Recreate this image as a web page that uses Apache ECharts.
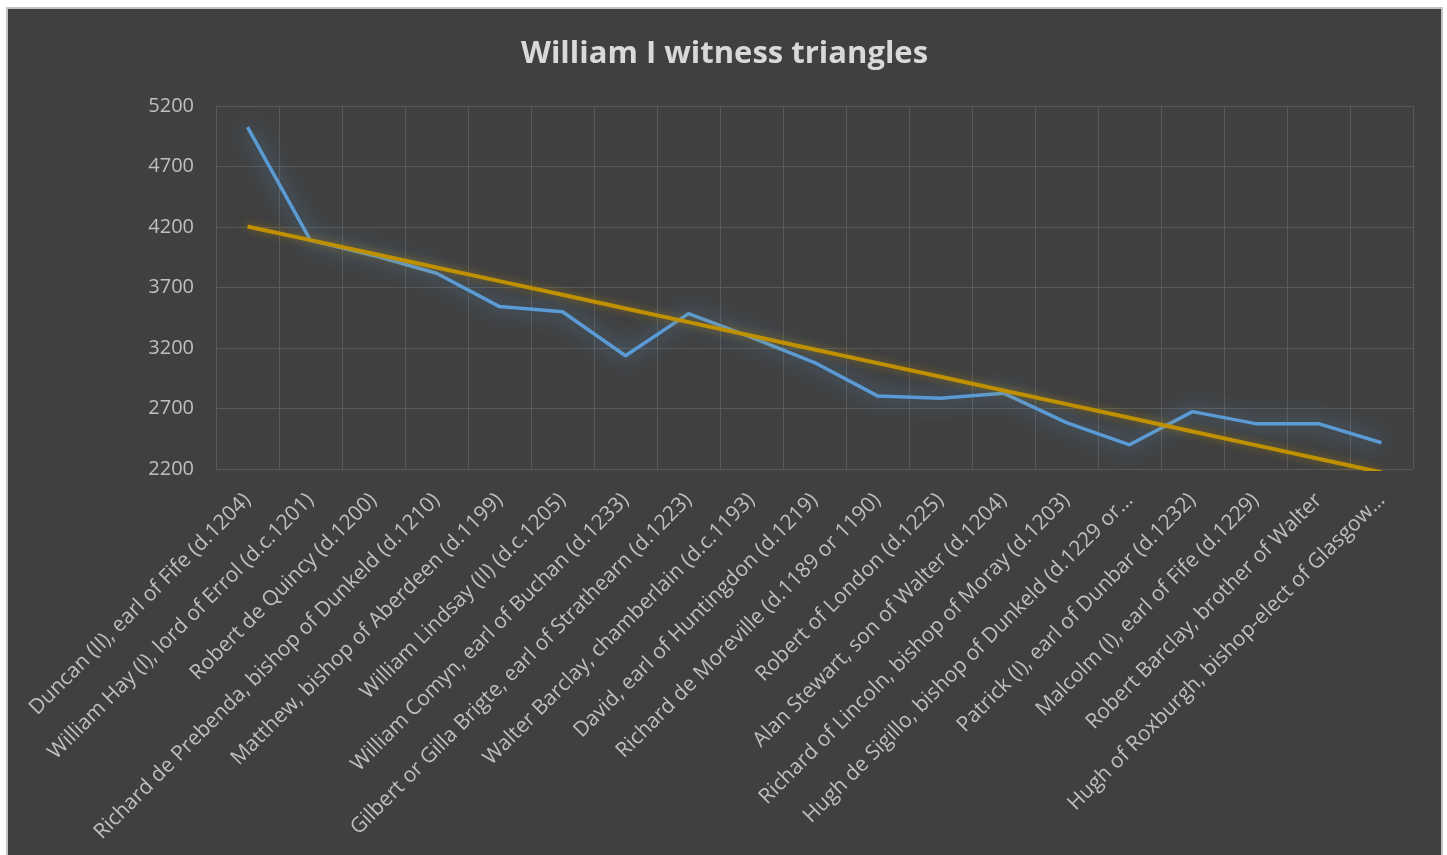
<!DOCTYPE html>
<html>
<head>
<meta charset="utf-8">
<script src="https://cdn.jsdelivr.net/npm/echarts@6/dist/echarts.min.js"></script>
<style>
html,body{margin:0;padding:0;background:#ffffff;width:1447px;height:855px;overflow:hidden;}
#frame{position:absolute;left:6px;top:7px;width:1433px;height:860px;border:2px solid #c4c4c4;background:#404040;}
#chart{width:1433px;height:846px;}
</style>
</head>
<body>
<div id="frame"><div id="chart"></div></div>
<script>
var titleText = 'William I witness triangles';
var categories = [
  'Duncan (II), earl of Fife (d.1204)',
  'William Hay (I), lord of Errol (d.c.1201)',
  'Robert de Quincy (d.1200)',
  'Richard de Prebenda, bishop of Dunkeld (d.1210)',
  'Matthew, bishop of Aberdeen (d.1199)',
  'William Lindsay (II) (d.c.1205)',
  'William Comyn, earl of Buchan (d.1233)',
  'Gilbert or Gilla Brigte, earl of Strathearn (d.1223)',
  'Walter Barclay, chamberlain (d.c.1193)',
  'David, earl of Huntingdon (d.1219)',
  'Richard de Moreville (d.1189 or 1190)',
  'Robert of London (d.1225)',
  'Alan Stewart, son of Walter (d.1204)',
  'Richard of Lincoln, bishop of Moray (d.1203)',
  'Hugh de Sigillo, bishop of Dunkeld (d.1229 or\u2026',
  'Patrick (I), earl of Dunbar (d.1232)',
  'Malcolm (I), earl of Fife (d.1229)',
  'Robert Barclay, brother of Walter',
  'Hugh of Roxburgh, bishop-elect of Glasgow\u2026'
];
var triangles = [5025, 4090, 3965, 3818, 3542, 3500, 3136, 3484, 3288, 3080, 2804, 2785, 2827, 2583, 2400, 2674, 2575, 2575, 2417];
var yMin = 2200, yMax = 5200, yStep = 500;

// Linear (least squares) trendline of the series, as in the spreadsheet
function linearTrend(vals){
  var n = vals.length, sx=0, sy=0, sxy=0, sxx=0;
  for (var i=0;i<n;i++){ var x=i+1; sx+=x; sy+=vals[i]; sxy+=x*vals[i]; sxx+=x*x; }
  var b = (n*sxy - sx*sy)/(n*sxx - sx*sx);
  var a = (sy - b*sx)/n;
  var out=[]; for (var j=0;j<n;j++){ out.push(a + b*(j+1)); }
  return out;
}
var trend = linearTrend(triangles);

var chart = echarts.init(document.getElementById('chart'), null, {renderer:'canvas'});
chart.setOption({
  animation:false,
  backgroundColor:'#404040',
  title:{
    text:titleText, left:'center', top:25,
    textStyle:{color:'#d9d9d9', fontFamily:'Open Sans', fontWeight:'bold', fontSize:31}
  },
  grid:{left:208, top:97, width:1197, height:363, containLabel:false},
  xAxis:{
    type:'category', data:categories, boundaryGap:true,
    axisLine:{show:false}, axisTick:{show:false},
    axisLabel:{color:'#bfbfbf', fontFamily:'Open Sans', fontSize:21, rotate:45, interval:0, margin:28},
    splitLine:{show:true, interval:0, lineStyle:{color:'#595959', width:1}}
  },
  yAxis:{
    type:'value', min:yMin, max:yMax, interval:yStep,
    axisLine:{show:false}, axisTick:{show:false},
    axisLabel:{color:'#bfbfbf', fontFamily:'Open Sans', fontSize:20, margin:22,
      formatter:function(v){ return String(v); }},
    splitLine:{show:true, lineStyle:{color:'#595959', width:1}}
  },
  series:[
    {
      name:'Witness triangles', type:'line', data:triangles, symbol:'none', z:2,
      lineStyle:{color:'#5b9bd5', width:3.5, shadowColor:'rgba(91,155,213,0.95)', shadowBlur:22},
      itemStyle:{color:'#5b9bd5'}
    },
    {
      name:'Linear trend', type:'line', data:trend, symbol:'none', z:3,
      lineStyle:{color:'#bf9000', width:4, shadowColor:'rgba(191,144,0,0.5)', shadowBlur:8},
      itemStyle:{color:'#bf9000'}
    }
  ]
});
</script>
</body>
</html>
